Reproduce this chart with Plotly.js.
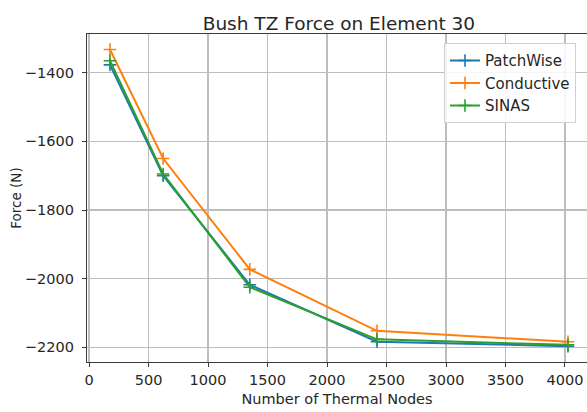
<!DOCTYPE html>
<html>
<head>
<meta charset="utf-8">
<script src="https://cdn.plot.ly/plotly-3.0.1.min.js"></script>
<style>
  html, body { margin: 0; padding: 0; background: #fff; }
  #chart { width: 587px; height: 412px; }
</style>
</head>
<body>
<div id="chart"></div>
<script>
// Thermal node counts for each model refinement
const thermalNodes = [176, 623, 1351, 2420, 4025];

// Bush TZ force (N) on element 30 for each thermal model
const patchWise  = [-1377, -1700, -2018, -2184, -2197];
const conductive = [-1332, -1650, -1973, -2152, -2184];
const sinas      = [-1365, -1695, -2025, -2177, -2193];

const seriesNames  = ['PatchWise', 'Conductive', 'SINAS'];
const seriesValues = [patchWise, conductive, sinas];
const seriesColors = ['#1f77b4', '#ff7f0e', '#2ca02c'];

const textColor = '#262626';
const fontFamily = 'DejaVu Sans, sans-serif';

const traces = seriesNames.map((name, i) => ({
  type: 'scatter',
  mode: 'lines+markers',
  name: name,
  x: thermalNodes,
  y: seriesValues[i],
  line: { color: seriesColors[i], width: 2 },
  marker: {
    symbol: 'cross-thin-open',
    size: 9,
    color: seriesColors[i],
    line: { color: seriesColors[i], width: 1.6 }
  }
}));

const layout = {
  width: 587,
  height: 412,
  margin: { l: 87, r: 0, t: 34, b: 50 },
  paper_bgcolor: '#ffffff',
  plot_bgcolor: '#ffffff',
  font: { family: fontFamily, size: 14, color: textColor },
  title: {
    text: 'Bush TZ Force on Element 30',
    font: { family: fontFamily, size: 18.5, color: textColor },
    x: 0.5038, xref: 'paper', xanchor: 'center',
    y: 0.943, yref: 'container', yanchor: 'middle'
  },
  xaxis: {
    range: [-17, 4185],
    tickvals: [0, 500, 1000, 1500, 2000, 2500, 3000, 3500, 4000],
    ticktext: ['0', '500', '1000', '1500', '2000', '2500', '3000', '3500', '4000'],
    showgrid: true, gridcolor: '#bdbdbd', gridwidth: 1.2,
    zeroline: false,
    showline: true, linecolor: '#3a3a3a', linewidth: 1.2, mirror: true,
    ticks: 'outside', ticklen: 4, tickcolor: '#3a3a3a', tickwidth: 1,
    tickfont: { family: fontFamily, size: 14.5, color: textColor },
    title: {
      text: 'Number of Thermal Nodes',
      font: { family: fontFamily, size: 14.5, color: textColor },
      standoff: 7
    }
  },
  yaxis: {
    range: [-2243, -1287],
    tickvals: [-2200, -2000, -1800, -1600, -1400],
    ticktext: ['\u22122200', '\u22122000', '\u22121800', '\u22121600', '\u22121400'],
    showgrid: true, gridcolor: '#bdbdbd', gridwidth: 1.2,
    zeroline: false,
    showline: true, linecolor: '#3a3a3a', linewidth: 1.2, mirror: false,
    ticks: 'outside', ticklen: 4, tickcolor: '#3a3a3a', tickwidth: 1,
    ticklabelstandoff: 5,
    tickfont: { family: fontFamily, size: 14.5, color: textColor },
    title: {
      text: 'Force (N)',
      font: { family: fontFamily, size: 13.5, color: textColor },
      standoff: 0
    }
  },
  legend: {
    x: 0.714, y: 0.972, xanchor: 'left', yanchor: 'top',
    bgcolor: 'rgba(255,255,255,0.85)',
    bordercolor: '#d0d0d0', borderwidth: 1,
    font: { family: fontFamily, size: 15, color: textColor },
    itemwidth: 30,
    tracegroupgap: 0
  },
  showlegend: true
};

Plotly.newPlot('chart', traces, layout, { staticPlot: true, displayModeBar: false });
</script>
</body>
</html>
